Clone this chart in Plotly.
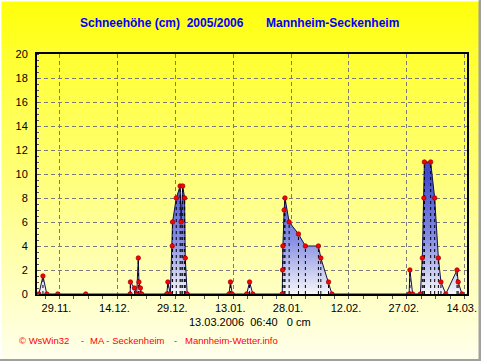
import plotly.graph_objects as go

# ---- data ----
times = [
    "2005-11-23 16:00", "2005-11-24 17:00", "2005-11-25 17:00", "2005-11-28 13:00",
    "2005-12-05 19:00", "2005-12-17 07:00", "2005-12-17 09:00", "2005-12-18 10:00",
    "2005-12-19 00:00", "2005-12-19 10:00", "2005-12-19 14:00", "2005-12-19 23:00",
    "2005-12-20 07:00", "2005-12-26 19:00", "2005-12-27 02:00", "2005-12-27 17:00",
    "2005-12-28 05:00", "2005-12-28 07:00", "2005-12-29 06:00", "2005-12-30 06:00",
    "2005-12-30 12:00", "2005-12-30 22:00", "2005-12-31 10:00", "2005-12-31 14:00",
    "2006-01-01 02:00", "2006-01-11 22:00", "2006-01-12 07:00", "2006-01-12 18:00",
    "2006-01-16 12:00", "2006-01-17 06:00", "2006-01-18 02:00", "2006-01-25 17:00",
    "2006-01-25 19:00", "2006-01-25 21:00", "2006-01-26 05:00", "2006-01-26 10:00",
    "2006-01-27 12:00", "2006-01-29 22:00", "2006-01-31 17:00", "2006-02-04 02:00",
    "2006-02-04 17:00", "2006-02-06 17:00", "2006-02-07 14:00", "2006-02-27 14:00",
    "2006-02-27 19:00", "2006-02-28 12:00", "2006-03-02 12:00", "2006-03-03 00:00",
    "2006-03-03 10:00", "2006-03-03 13:00", "2006-03-05 04:00", "2006-03-06 05:00",
    "2006-03-07 04:00", "2006-03-07 20:00", "2006-03-09 02:00", "2006-03-12 00:00",
    "2006-03-12 07:00", "2006-03-13 06:40",
]
snow_cm = [
    0, 1.5, 0, 0,
    0, 0, 1, 0.5,
    0, 3, 1, 0.5,
    0, 0, 1, 0,
    4, 6, 8, 9,
    6, 9, 8, 3,
    0, 0, 1, 0,
    0, 1, 0, 0,
    2, 4, 7, 8,
    6, 5, 4, 4,
    3, 1, 0, 0,
    2, 0, 0, 3,
    8, 11, 11, 8,
    3, 1, 0, 2,
    1, 0,
]
x_range = ["2005-11-23 04:00", "2006-03-14 14:00"]
x_tick0 = "2005-11-29"
y_ticks = list(range(0, 21, 2))
title_left = "Schneehöhe (cm)\u00a0\u00a02005/2006"
title_right = "Mannheim-Seckenheim"
caption = "13.03.2006\u00a0\u00a006:40\u00a0\u00a0\u00a00 cm"
footer_parts = ["© WsWin32", "-", "MA - Seckenheim", "-", "Mannheim-Wetter.info"]

# ---- layout geometry ----
W, H = 481, 361
L, R, T, B = 37, 467, 54, 294

def px(xp):
    return (xp - L) / (R - L)

def py(yp):
    return (B - yp) / (B - T)

FONT = "Arial, Liberation Sans, sans-serif"
DAY = 86400000

fig = go.Figure()

# area with gradient fill
fig.add_trace(go.Scatter(
    x=times, y=snow_cm, mode="lines",
    line=dict(color="#10104a", width=1),
    fill="tozeroy",
    fillgradient=dict(type="vertical", start=0, stop=10,
                      colorscale=[[0, "rgb(246,246,250)"], [0.45, "rgb(135,143,225)"],
                                  [1, "rgb(65,75,205)"]]),
    hoverinfo="skip", showlegend=False,
))

# dotted drop lines
dx, dy = [], []
for t, v in zip(times, snow_cm):
    dx += [t, t, None]
    dy += [0, v, None]
fig.add_trace(go.Scatter(
    x=dx, y=dy, mode="lines",
    line=dict(color="black", width=1, dash="dot"),
    hoverinfo="skip", showlegend=False,
))

# markers
fig.add_trace(go.Scatter(
    x=times, y=snow_cm, mode="markers",
    marker=dict(color="#ff0000", size=4.5, line=dict(color="#900000", width=0.7)),
    showlegend=False,
))

# background gradient bands
shapes = []
N = 120
top_c = (255, 255, 10)
bot_c = (255, 255, 238)
for i in range(N):
    y0 = i * H / N
    y1 = (i + 1) * H / N + 0.5
    f = (i + 0.5) / N
    c = tuple(round(top_c[k] + (bot_c[k] - top_c[k]) * f) for k in range(3))
    shapes.append(dict(type="rect", xref="paper", yref="paper", layer="below",
                       x0=px(0), x1=px(W), y0=py(min(y1, H)), y1=py(y0),
                       fillcolor="rgb(%d,%d,%d)" % c, line=dict(width=0)))
# frame: white left/top, gray right/bottom
shapes.append(dict(type="rect", xref="paper", yref="paper", layer="above",
                   x0=px(W - 2.5), x1=px(W), y0=py(H), y1=py(0),
                   fillcolor="#a0a0a0", line=dict(width=0)))
shapes.append(dict(type="rect", xref="paper", yref="paper", layer="above",
                   x0=px(0), x1=px(W), y0=py(H), y1=py(H - 2),
                   fillcolor="#a0a0a0", line=dict(width=0)))
shapes.append(dict(type="rect", xref="paper", yref="paper", layer="above",
                   x0=px(0), x1=px(1.5), y0=py(H - 2), y1=py(0),
                   fillcolor="#ffffff", line=dict(width=0)))
shapes.append(dict(type="rect", xref="paper", yref="paper", layer="above",
                   x0=px(0), x1=px(W - 2.5), y0=py(1.5), y1=py(0),
                   fillcolor="#ffffff", line=dict(width=0)))

annotations = [
    dict(text=title_left, x=px(161.5), y=py(23), xref="paper", yref="paper",
         showarrow=False, xanchor="center", yanchor="middle",
         font=dict(family=FONT, size=12, color="#0000ff", weight="bold")),
    dict(text=title_right, x=px(332.5), y=py(23), xref="paper", yref="paper",
         showarrow=False, xanchor="center", yanchor="middle",
         font=dict(family=FONT, size=12, color="#0000ff", weight="bold")),
    dict(text=caption, x=px(250), y=py(322), xref="paper", yref="paper",
         showarrow=False, xanchor="center", yanchor="middle",
         font=dict(family=FONT, size=11, color="black")),
]
footer_x = [17, 79, 88, 172, 183]
for txt, xx in zip(footer_parts, footer_x):
    annotations.append(dict(text=txt, x=px(xx), y=py(340), xref="paper", yref="paper",
                            showarrow=False, xanchor="left", yanchor="middle",
                            font=dict(family=FONT, size=9.5, color="#ff0000")))

fig.update_layout(
    width=W, height=H, autosize=False,
    margin=dict(l=L, r=W - R, t=T, b=H - B, pad=0, autoexpand=False),
    paper_bgcolor="#ffffe0",
    plot_bgcolor="rgba(0,0,0,0)",
    shapes=shapes,
    annotations=annotations,
    showlegend=False,
    font=dict(family=FONT, size=11, color="black"),
)
fig.update_xaxes(
    type="date", range=x_range, automargin=False,
    tick0=x_tick0, dtick=15 * DAY, tickformat="%d.%m.",
    showgrid=True, gridcolor="#7a7a7a", griddash="4px,3px", gridwidth=1,
    showline=True, linecolor="black", linewidth=2, mirror=True,
    ticks="outside", ticklen=3, tickcolor="#555555",
    ticklabelstandoff=0, ticklabelshift=-3,
    minor=dict(tick0=x_tick0, dtick=3.75 * DAY, ticks="outside", ticklen=3,
               tickcolor="#555555", showgrid=False),
    tickfont=dict(family=FONT, size=11, color="black"),
    zeroline=False, fixedrange=True,
)
fig.update_yaxes(
    range=[0, 20], tickvals=y_ticks, automargin=False,
    showgrid=True, gridcolor="#7a7a7a", griddash="4px,3px", gridwidth=1,
    showline=True, linecolor="black", linewidth=2, mirror=True,
    ticks="", ticklabelstandoff=5,
    minor=dict(dtick=0.5, ticks="inside", ticklen=2, tickcolor="#555555", showgrid=False),
    tickfont=dict(family=FONT, size=11, color="black"),
    zeroline=False, fixedrange=True,
)

fig.write_html(
    "out.html",
    config={"displayModeBar": False},
    post_script="document.body.style.margin='0';document.body.style.overflow='hidden';",
)
